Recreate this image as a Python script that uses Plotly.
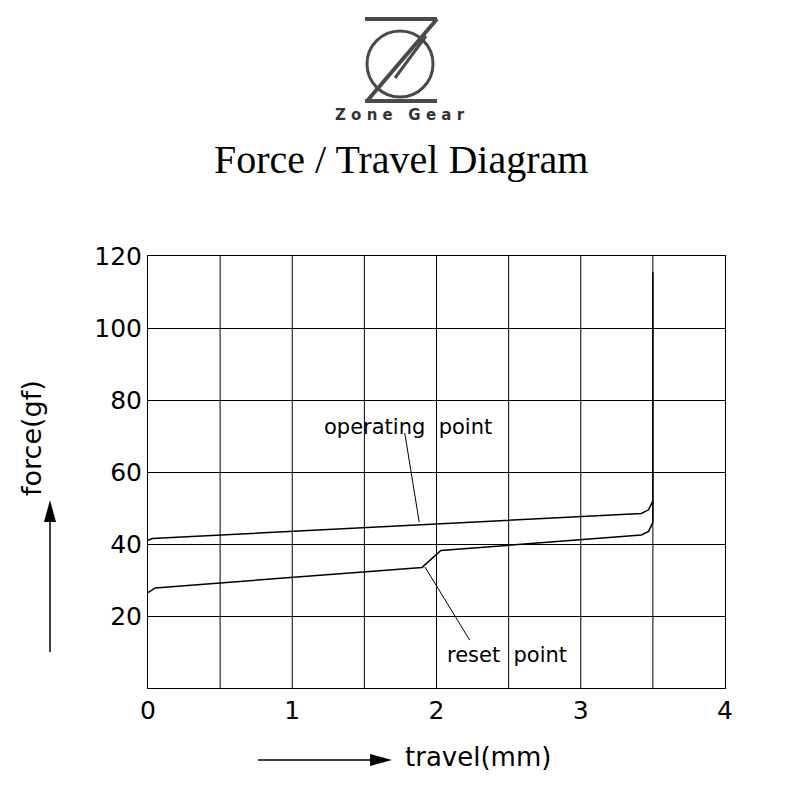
import plotly.graph_objects as go

op_x = [0, 0.03, 3.42, 3.47, 3.5]
op_y = [41, 41.5, 48.5, 49.5, 52]
rs_x = [0, 0.05, 1.9, 2.03, 3.42, 3.47, 3.5]
rs_y = [26.5, 27.8, 33.5, 38.2, 42.5, 43.5, 46]
vert_x = [3.5, 3.5]
vert_y = [46, 115.5]
x_ticks = [0, 1, 2, 3, 4]
y_ticks = [20, 40, 60, 80, 100, 120]

OFF = 8
L, R, T, B = 148, 725, 256, 688
def px(x): return (x - L) / (R - L)
def py(y): return (B - y) / (B - T)

fig = go.Figure()
line = dict(color="black", width=1.5)
for xs, ys in [(op_x, op_y), (rs_x, rs_y), (vert_x, vert_y)]:
    fig.add_trace(go.Scatter(x=xs, y=ys, mode="lines", line=line, hoverinfo="skip"))
fig.add_trace(go.Scatter(x=[1.78, 1.88], y=[70.8, 46.1], mode="lines", line=dict(color="black", width=1)))
fig.add_trace(go.Scatter(x=[1.92, 2.23], y=[33.6, 13.3], mode="lines", line=dict(color="black", width=1)))

shapes = []
grey = "#4a4a4a"
P = dict(xref="paper", yref="paper")
shapes.append(dict(type="line", x0=px(365), x1=px(437), y0=py(19), y1=py(19), line=dict(color=grey, width=4), **P))
shapes.append(dict(type="line", x0=px(365), x1=px(437), y0=py(101), y1=py(101), line=dict(color=grey, width=4), **P))
shapes.append(dict(type="line", x0=px(437), x1=px(367), y0=py(19), y1=py(101), line=dict(color=grey, width=4), **P))
shapes.append(dict(type="circle", x0=px(367), x1=px(433), y0=py(31), y1=py(97), line=dict(color=grey, width=3), **P))
shapes.append(dict(type="line", x0=px(426), x1=px(395), y0=py(36), y1=py(78), line=dict(color=grey, width=3), **P))
shapes.append(dict(type="line", x0=px(50), x1=px(50), y0=py(652), y1=py(520), line=dict(color="black", width=1.5), **P))
shapes.append(dict(type="path", path=f"M {px(44)} {py(522)} L {px(56)} {py(522)} L {px(50)} {py(500)} Z",
                   fillcolor="black", line=dict(width=0), **P))
shapes.append(dict(type="line", x0=px(258), x1=px(372), y0=py(760), y1=py(760), line=dict(color="black", width=1.5), **P))
shapes.append(dict(type="path", path=f"M {px(370)} {py(754)} L {px(370)} {py(766)} L {px(392)} {py(760)} Z",
                   fillcolor="black", line=dict(width=0), **P))

ann = [
    dict(x=px(400), y=py(115), text="<b>Z o n e   G e a r</b>", font=dict(family="DejaVu Sans", size=15, color="#333")),
    dict(x=px(401), y=py(160), text="Force / Travel Diagram", font=dict(family="Liberation Serif", size=40, color="black")),
    dict(x=1.80, y=72.5, xref="x", yref="y", text="operating  point", font=dict(family="DejaVu Sans", size=21, color="black")),
    dict(x=2.49, y=9.2, xref="x", yref="y", text="reset  point", font=dict(family="DejaVu Sans", size=21, color="black")),
    dict(x=px(31), y=py(438), text="force(gf)", textangle=-90, font=dict(family="DejaVu Sans", size=27, color="black")),
    dict(x=px(478), y=py(757), text="travel(mm)", font=dict(family="DejaVu Sans", size=26, color="black")),
]
for a in ann:
    a.setdefault("xref", "paper"); a.setdefault("yref", "paper"); a["showarrow"] = False
    a["xanchor"] = "center"; a["yanchor"] = "middle"

fig.update_layout(
    width=800, height=800, showlegend=False,
    plot_bgcolor="white", paper_bgcolor="white",
    margin=dict(l=L - OFF, r=800 - R + OFF, t=T - OFF, b=800 - B + OFF),
    shapes=shapes, annotations=ann,
    xaxis=dict(range=[0, 4], tickvals=x_ticks, showgrid=False, zeroline=False,
               showline=True, linecolor="black", mirror=True,
               tickfont=dict(family="DejaVu Sans", size=25, color="black"), ticks=""),
    yaxis=dict(range=[0, 120], tickvals=y_ticks, showgrid=True, gridcolor="black", gridwidth=1, zeroline=False,
               showline=True, linecolor="black", mirror=True,
               tickfont=dict(family="DejaVu Sans", size=25, color="black"), ticks=""),
)
for v in [0.5, 1, 1.5, 2, 2.5, 3, 3.5]:
    fig.add_vline(x=v, line=dict(color="black", width=1), layer="below")
fig.write_html("out.html")
